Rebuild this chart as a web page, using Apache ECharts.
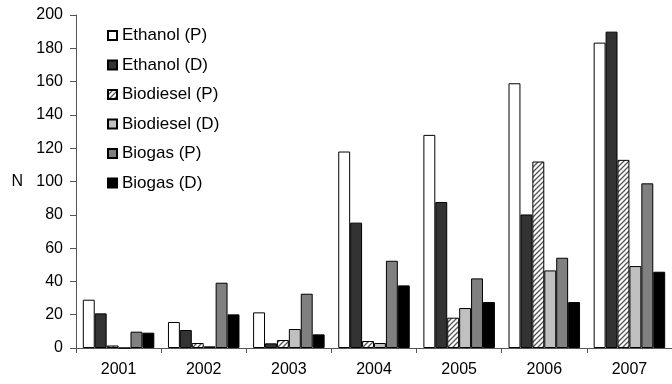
<!DOCTYPE html>
<html><head><meta charset="utf-8">
<script src="https://cdn.jsdelivr.net/npm/echarts@6/dist/echarts.min.js"></script>
<style>html,body{margin:0;padding:0;background:#fff}#c{width:672px;height:384px}</style>
</head><body><div id="c"></div>
<script>
const categories = ['2001','2002','2003','2004','2005','2006','2007'];
const ethanolP   = [29, 15.6, 21.4, 118, 128, 159, 183.4];
const ethanolD   = [20.8, 10.8, 2.8, 75.3, 87.7, 80.2, 190];
const biodieselP = [1.5, 3, 4.8, 4.2, 18.2, 112, 113];
const biodieselD = [0, 1, 11.4, 3, 24, 46.6, 49.2];
const biogasP    = [9.8, 39.2, 32.6, 52.4, 41.8, 54.2, 98.9];
const biogasD    = [9.2, 20.2, 8.2, 37.6, 27.6, 27.6, 45.8];
const seriesNames = ['Ethanol (P)','Ethanol (D)','Biodiesel (P)','Biodiesel (D)','Biogas (P)','Biogas (D)'];
const yTicks = [0,20,40,60,80,100,120,140,160,180,200];

function hatch(){
  const c = document.createElement('canvas');
  c.width = 5; c.height = 5;
  const g = c.getContext('2d');
  g.fillStyle = '#fff'; g.fillRect(0,0,5,5);
  g.strokeStyle = '#555'; g.lineWidth = 1.3;
  g.beginPath();
  g.moveTo(-1,6); g.lineTo(6,-1);
  g.moveTo(-1,1); g.lineTo(1,-1);
  g.moveTo(4,6); g.lineTo(6,4);
  g.stroke();
  return c;
}
const fills = ['#ffffff','#333333',{image:hatch(),repeat:'repeat'},'#c0c0c0','#808080','#000000'];
const data = [ethanolP, ethanolD, biodieselP, biodieselD, biogasP, biogasD];

const font = 'Liberation Sans, Arial, sans-serif';
const chart = echarts.init(document.getElementById('c'), null, {renderer:'canvas'});
chart.setOption({
  animation:false,
  backgroundColor:'#fff',
  grid:{left:76, top:15, width:604, height:333, containLabel:false},
  legend:{
    orient:'vertical', left:102, top:22, itemWidth:9, itemHeight:9, itemGap:12.5,
    icon:'rect',
    textStyle:{fontFamily:font, fontSize:17, color:'#000'},
    data:seriesNames
  },
  xAxis:{
    type:'category', data:categories,
    axisLine:{lineStyle:{color:'#555', width:1}},
    axisTick:{show:true, length:5, lineStyle:{color:'#555'}},
    axisLabel:{fontFamily:font, fontSize:16, color:'#000', margin:14}
  },
  yAxis:{
    type:'value', min:0, max:200, interval:20,
    name:'N', nameLocation:'middle', nameRotate:0, nameGap:53,
    nameTextStyle:{fontFamily:font, fontSize:16, color:'#000'},
    splitLine:{show:false},
    axisLine:{show:true, lineStyle:{color:'#555', width:1}},
    axisTick:{show:true, length:6, lineStyle:{color:'#555'}},
    axisLabel:{fontFamily:font, fontSize:16, color:'#000', margin:13,
      formatter:v=> yTicks.includes(v) ? String(v) : ''}
  },
  series: seriesNames.map((n,i)=>({
    name:n, type:'bar', data:data[i],
    barGap:'0%', barCategoryGap:'16%',
    itemStyle:{color:fills[i], borderColor:'#000', borderWidth:1}
  }))
});
</script></body></html>
